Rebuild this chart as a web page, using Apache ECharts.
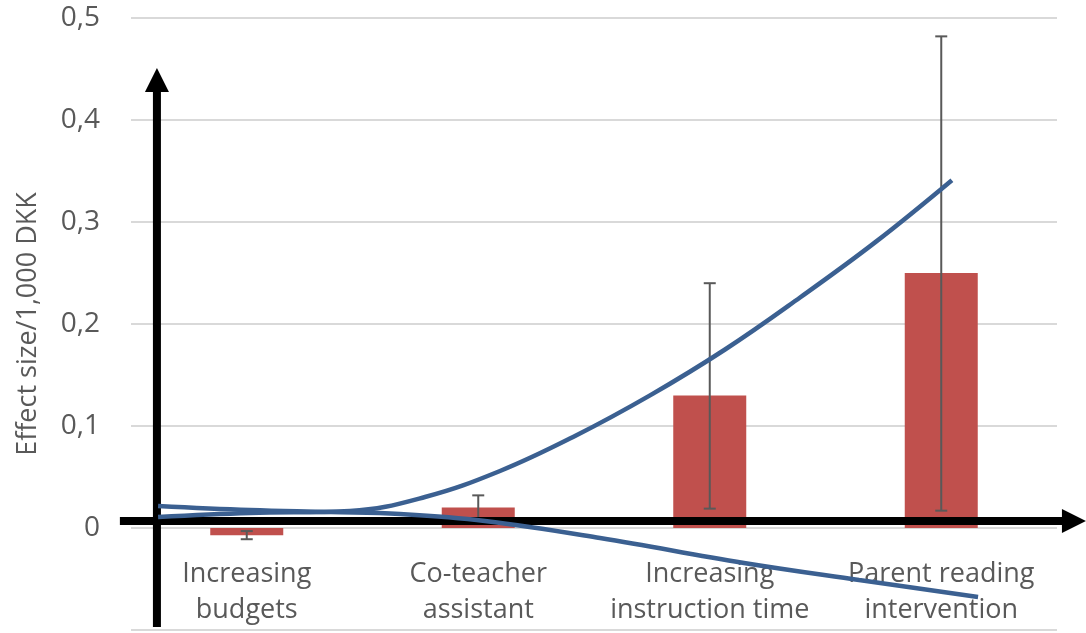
<!DOCTYPE html>
<html><head><meta charset="utf-8">
<script src="https://cdn.jsdelivr.net/npm/echarts@6/dist/echarts.min.js"></script>
<style>html,body{margin:0;padding:0;background:#fff}#c{width:1086px;height:633px}</style>
</head><body><div id="c"></div>
<script>
const categories = ['Increasing\nbudgets', 'Co-teacher\nassistant', 'Increasing\ninstruction time', 'Parent reading\nintervention'];
const effectValues = [-0.007, 0.02, 0.13, 0.25];
const errorLow = [-0.011, 0.008, 0.019, 0.017];
const errorHigh = [-0.003, 0.032, 0.24, 0.482];
const yAxisName = 'Effect size/1,000 DKK';

// hand-drawn curves, in category-position units (x) and effect-size units (y)
const risingCurveX = [0.117, 0.514, 0.946, 1.270, 1.594, 1.918, 2.242, 2.566, 2.890, 3.214, 3.546];
const risingCurveY = [0.0108, 0.0147, 0.0167, 0.0304, 0.0559, 0.0902, 0.130, 0.175, 0.226, 0.280, 0.341];
const fallingCurveX = [0.117, 0.514, 0.860, 1.162, 1.529, 2.026, 2.648, 3.145, 3.659];
const fallingCurveY = [0.0216, 0.0176, 0.0157, 0.0137, 0.0069, -0.0098, -0.0343, -0.051, -0.0676];

// drawn arrows (start x, start y, end x, end y)
const arrowVertical = [0.112, -0.097, 0.112, 0.451];
const arrowHorizontal = [-0.048, 0.0069, 4.125, 0.0069];

const chart = echarts.init(document.getElementById('c'), null, {renderer: 'canvas'});
const FONT = 'Open Sans';
const GREY = '#595959';
const BLUE = '#3b6091';

function zip(xs, ys) { return xs.map((x, i) => [x, ys[i]]); }

function arrowItem(params, api) {
  const p1 = api.coord([api.value(0), api.value(1)]);
  const p2 = api.coord([api.value(2), api.value(3)]);
  const dx = p2[0] - p1[0], dy = p2[1] - p1[1];
  const len = Math.sqrt(dx * dx + dy * dy);
  const ux = dx / len, uy = dy / len;
  const headL = 24, headW = 12;
  const bx = p2[0] - ux * headL, by = p2[1] - uy * headL;
  return {
    type: 'group',
    children: [
      {type: 'line', shape: {x1: p1[0], y1: p1[1], x2: bx + ux * 2, y2: by + uy * 2},
       style: {stroke: '#000', lineWidth: 8}},
      {type: 'polygon', shape: {points: [[p2[0], p2[1]], [bx - uy * headW, by + ux * headW], [bx + uy * headW, by - ux * headW]]},
       style: {fill: '#000'}}
    ]
  };
}

function errorItem(params, api) {
  const x = api.value(0);
  const lo = api.coord([x, api.value(1)]);
  const hi = api.coord([x, api.value(2)]);
  const cw = 6;
  const st = {stroke: GREY, lineWidth: 2};
  return {
    type: 'group',
    children: [
      {type: 'line', shape: {x1: lo[0], y1: lo[1], x2: hi[0], y2: hi[1]}, style: st},
      {type: 'line', shape: {x1: lo[0] - cw, y1: lo[1], x2: lo[0] + cw, y2: lo[1]}, style: st},
      {type: 'line', shape: {x1: hi[0] - cw, y1: hi[1], x2: hi[0] + cw, y2: hi[1]}, style: st}
    ]
  };
}

chart.setOption({
  animation: false,
  backgroundColor: '#fff',
  grid: {left: 131, right: 29, top: 18, bottom: 3, containLabel: false, outerBoundsMode: 'none'},
  xAxis: [
    {type: 'category', data: categories, position: 'bottom', offset: -102,
     axisLine: {show: false, onZero: false}, axisTick: {show: false},
     axisLabel: {interval: 0, fontFamily: FONT, fontSize: 27, lineHeight: 36, color: GREY, margin: 28}},
    {type: 'value', min: 0, max: 4, show: false}
  ],
  yAxis: {
    type: 'value', min: -0.1, max: 0.5, interval: 0.1,
    name: yAxisName, nameLocation: 'middle', nameGap: 89,
    nameTextStyle: {fontFamily: FONT, fontSize: 27, color: GREY},
    axisLine: {show: false}, axisTick: {show: false},
    axisLabel: {fontFamily: FONT, fontSize: 28, color: GREY, margin: 31,
      formatter: v => v < -1e-9 ? '' : (Math.abs(v) < 1e-9 ? '0' : v.toFixed(1).replace('.', ','))},
    splitLine: {lineStyle: {color: '#d9d9d9', width: 2}}
  },
  series: [
    {type: 'bar', data: effectValues, barWidth: 73, itemStyle: {color: '#c0504d'}, z: 2},
    {type: 'custom', renderItem: errorItem, data: categories.map((c, i) => [i, errorLow[i], errorHigh[i]]), z: 3, clip: false},
    {type: 'custom', xAxisIndex: 1, renderItem: arrowItem, data: [arrowVertical, arrowHorizontal], z: 4, clip: false},
    {type: 'line', xAxisIndex: 1, data: zip(risingCurveX, risingCurveY), smooth: 0.4, symbol: 'none',
     lineStyle: {color: BLUE, width: 4.5}, z: 5, clip: false},
    {type: 'line', xAxisIndex: 1, data: zip(fallingCurveX, fallingCurveY), smooth: 0.4, symbol: 'none',
     lineStyle: {color: BLUE, width: 4.5}, z: 5, clip: false}
  ]
});
</script></body></html>
